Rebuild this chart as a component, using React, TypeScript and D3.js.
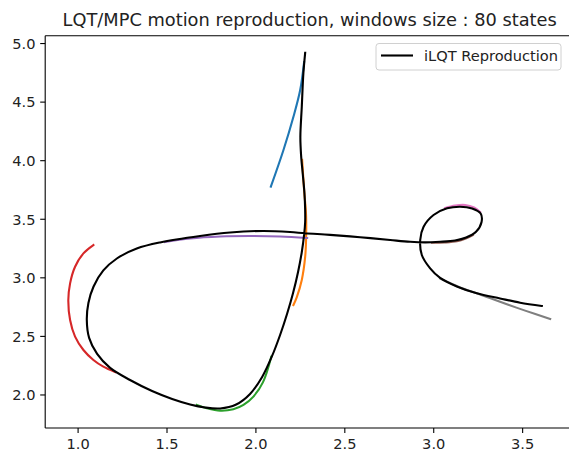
import React from 'react'
import * as d3 from 'd3'

// iLQT reproduction (black) and the MPC windows (tab10 colours)
const blackX = [2.277, 2.267, 2.258, 2.250, 2.254, 2.264, 2.273, 2.277, 2.277, 2.271, 2.258, 2.237, 2.209, 2.175, 2.136, 2.091, 2.035, 1.967, 1.889, 1.799, 1.714, 1.630, 1.529, 1.416, 1.292, 1.180, 1.107, 1.062, 1.049, 1.058, 1.087, 1.142, 1.218, 1.330, 1.461, 1.686, 1.855, 2.040, 2.192, 2.277, 2.417, 2.586, 2.755, 2.867, 2.952, 3.036, 3.120, 3.182, 3.238, 3.269, 3.264, 3.216, 3.148, 3.075, 2.999, 2.943, 2.924, 2.933, 2.980, 3.036, 3.130, 3.242, 3.373, 3.486, 3.608]
const blackY = [4.921, 4.746, 4.461, 4.205, 4.048, 3.878, 3.722, 3.579, 3.477, 3.366, 3.220, 3.050, 2.870, 2.691, 2.512, 2.333, 2.154, 2.009, 1.919, 1.885, 1.893, 1.919, 1.966, 2.034, 2.128, 2.231, 2.350, 2.487, 2.640, 2.785, 2.926, 3.063, 3.165, 3.250, 3.302, 3.357, 3.387, 3.400, 3.391, 3.380, 3.367, 3.347, 3.323, 3.308, 3.303, 3.308, 3.319, 3.344, 3.393, 3.477, 3.549, 3.592, 3.607, 3.593, 3.536, 3.436, 3.323, 3.195, 3.081, 2.999, 2.926, 2.868, 2.824, 2.788, 2.760]

const blueX = [2.271, 2.249, 2.211, 2.155, 2.084]
const blueY = [4.842, 4.603, 4.375, 4.091, 3.778]
const orangeX = [2.260, 2.271, 2.282, 2.282, 2.277, 2.258, 2.230, 2.211]
const orangeY = [4.006, 3.750, 3.537, 3.323, 3.178, 2.982, 2.836, 2.768]
const greenX = [1.668, 1.724, 1.799, 1.873, 1.930, 1.986, 2.040, 2.086]
const greenY = [1.915, 1.887, 1.866, 1.878, 1.915, 1.986, 2.110, 2.325]
const redX = [1.086, 1.030, 0.983, 0.955, 0.945, 0.955, 0.983, 1.030, 1.086, 1.142, 1.208]
const redY = [3.280, 3.209, 3.095, 2.953, 2.811, 2.640, 2.498, 2.384, 2.299, 2.242, 2.196]
const purpleX = [1.489, 1.630, 1.799, 1.967, 2.136, 2.288]
const purpleY = [3.306, 3.336, 3.353, 3.357, 3.353, 3.340]
const brownX = [2.990, 3.060, 3.130, 3.180, 3.220]
const brownY = [3.300, 3.302, 3.312, 3.336, 3.366]
const pinkX = [3.064, 3.120, 3.177, 3.227, 3.261]
const pinkY = [3.596, 3.617, 3.622, 3.600, 3.562]
const grayX = [3.036, 3.148, 3.261, 3.373, 3.514, 3.655]
const grayY = [2.994, 2.918, 2.858, 2.795, 2.720, 2.649]

const windows = [
  {xs: blueX, ys: blueY, color: '#1f77b4'},
  {xs: orangeX, ys: orangeY, color: '#ff7f0e'},
  {xs: greenX, ys: greenY, color: '#2ca02c'},
  {xs: redX, ys: redY, color: '#d62728'},
  {xs: purpleX, ys: purpleY, color: '#9467bd'},
  {xs: brownX, ys: brownY, color: '#8c564b'},
  {xs: pinkX, ys: pinkY, color: '#e377c2'},
  {xs: grayX, ys: grayY, color: '#7f7f7f'},
]

const xTicks = [1.0, 1.5, 2.0, 2.5, 3.0, 3.5]
const yTicks = [2.0, 2.5, 3.0, 3.5, 4.0, 4.5, 5.0]
const title = 'LQT/MPC motion reproduction, windows size : 80 states'
const legendLabel = 'iLQT Reproduction'

const W = 569, H = 453
const left = 45.2, right = 574.2, top = 35.7, bottom = 428
const font = 'DejaVu Sans, sans-serif'
const txt = '#222'

export default function App() {
  const x = d3.scaleLinear().domain([0.815, 3.79]).range([left, right])
  const y = d3.scaleLinear().domain([1.718, 5.067]).range([bottom, top])
  const line = d3.line<[number, number]>()
    .x(d => x(d[0]))
    .y(d => y(d[1]))
    .curve(d3.curveCatmullRom.alpha(0.5))
  const path = (xs: number[], ys: number[]) => line(xs.map((v, i) => [v, ys[i]]) as [number, number][]) || ''

  return (
    <svg width={W} height={H} style={{position: 'absolute', left: 0, top: 0, background: '#fff'}}>
      <rect x={0} y={0} width={W} height={H} fill='#fff'/>
      <text x={(left + right) / 2} y={26} textAnchor='middle' fontFamily={font} fontSize={17.8} fill={txt}>{title}</text>

      {windows.map((w, i) => (
        <path key={i} d={path(w.xs, w.ys)} fill='none' stroke={w.color} strokeWidth={2.1} strokeLinecap='square'/>
      ))}
      <path d={path(blackX, blackY)} fill='none' stroke='#000' strokeWidth={2.1} strokeLinecap='square'/>

      {/* spines */}
      <line x1={left} x2={left} y1={top} y2={bottom} stroke='#000' strokeWidth={1.1}/>
      <line x1={left} x2={right} y1={bottom} y2={bottom} stroke='#000' strokeWidth={1.1}/>
      <line x1={left} x2={right} y1={top} y2={top} stroke='#000' strokeWidth={1.1}/>

      {xTicks.map(t => (
        <g key={t}>
          <line x1={x(t)} x2={x(t)} y1={bottom} y2={bottom + 5} stroke='#000' strokeWidth={1.1}/>
          <text x={x(t)} y={449} textAnchor='middle' fontFamily={font} fontSize={14.6} fill={txt}>{t.toFixed(1)}</text>
        </g>
      ))}
      {yTicks.map(t => (
        <g key={t}>
          <line x1={left - 5} x2={left} y1={y(t)} y2={y(t)} stroke='#000' strokeWidth={1.1}/>
          <text x={35.5} y={y(t)} dy='0.36em' textAnchor='end' fontFamily={font} fontSize={14.6} fill={txt}>{t.toFixed(1)}</text>
        </g>
      ))}

      {/* legend */}
      <rect x={376} y={43.5} width={185} height={26.5} rx={3} fill='#fff' fillOpacity={0.8} stroke='#d0d0d0' strokeWidth={1}/>
      <line x1={381} x2={413} y1={55.5} y2={55.5} stroke='#000' strokeWidth={2.1}/>
      <text x={424} y={60.5} fontFamily={font} fontSize={14.6} fill={txt}>{legendLabel}</text>
    </svg>
  )
}
